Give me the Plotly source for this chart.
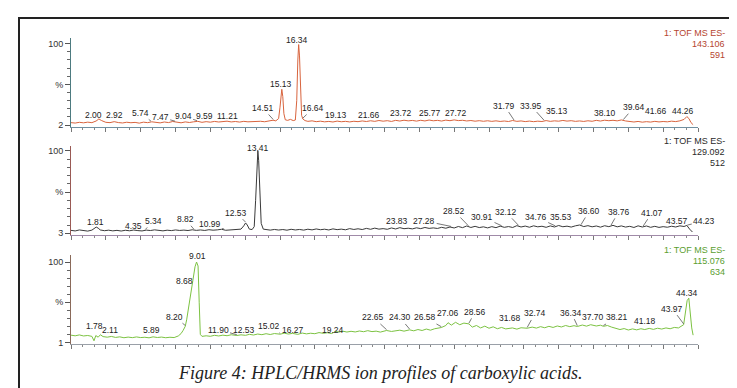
import numpy as np
import plotly.graph_objects as go

W, H = 737, 388

# ---------------- data: panel 1 (m/z 143.106) ----------------
t1 = [0.0, 0.3, 0.6, 0.9, 1.2, 1.5, 1.8, 2.0, 2.2, 2.5, 2.8, 3.1, 3.4, 3.7, 4.0, 4.3, 4.6, 4.9, 5.2, 5.5,
      5.8, 6.1, 6.4, 6.7, 7.0, 7.3, 7.6, 7.9, 8.2, 8.5, 8.8, 9.1, 9.4, 9.7, 10.0, 10.3, 10.6, 10.9, 11.2, 11.5,
      11.8, 12.1, 12.4, 12.7, 13.0, 13.3, 13.6, 13.9, 14.2, 14.5, 14.7, 14.9, 15.0, 15.08, 15.13, 15.2, 15.28,
      15.38, 15.55, 15.75, 15.95, 16.1, 16.2, 16.28, 16.34, 16.4, 16.47, 16.55, 16.64, 16.8, 17.0, 17.3, 17.6,
      17.9, 18.2, 18.5, 18.8, 19.1, 19.4, 19.7, 20.0, 20.3, 20.6, 20.9, 21.2, 21.5, 21.8, 22.1, 22.4, 22.7,
      23.0, 23.3, 23.6, 23.9, 24.2, 24.5, 24.8, 25.1, 25.4, 25.7, 26.0, 26.3, 26.6, 26.9, 27.2, 27.5, 27.8,
      28.1, 28.4, 28.7, 29.0, 29.3, 29.6, 29.9, 30.2, 30.5, 30.8, 31.1, 31.4, 31.7, 32.0, 32.3, 32.6, 32.9,
      33.2, 33.5, 33.8, 34.1, 34.4, 34.7, 35.0, 35.3, 35.6, 35.9, 36.2, 36.5, 36.8, 37.1, 37.4, 37.7, 38.0,
      38.3, 38.6, 38.9, 39.2, 39.5, 39.8, 40.1, 40.4, 40.7, 41.0, 41.3, 41.6, 41.9, 42.2, 42.5, 42.8, 43.1,
      43.4, 43.7, 44.0, 44.2, 44.35, 44.5, 44.65]
v1 = [3.0, 2.5, 3.4, 2.8, 3.6, 3.0, 5.0, 7.5, 5.5, 3.4, 3.0, 4.2, 3.1, 2.6, 3.5, 2.9, 3.3, 2.4, 3.6, 3.0,
      4.0, 3.2, 2.7, 3.8, 3.1, 4.4, 3.3, 2.8, 3.9, 3.2, 4.0, 4.6, 3.4, 4.2, 3.6, 4.5, 3.8, 4.3, 4.8, 3.9,
      4.4, 3.7, 4.6, 4.0, 4.3, 3.8, 4.7, 4.1, 4.9, 6.0, 5.2, 8.0, 22, 40, 44, 35, 14,
      6.5, 5.8, 7.0, 5.5, 6.2, 30, 80, 99, 85, 40, 12, 7.5, 5.5, 4.6, 5.2, 4.2,
      4.8, 4.0, 4.5, 3.8, 4.9, 4.1, 4.6, 3.9, 4.7, 4.2, 5.1, 4.4, 5.3, 4.6, 5.6, 4.8, 5.4,
      4.5, 5.8, 5.0, 6.0, 5.2, 5.7, 4.9, 5.9, 5.1, 6.2, 5.3, 5.8, 5.0, 6.1, 5.4, 6.4, 5.5,
      5.9, 5.1, 5.6, 4.8, 5.4, 4.7, 5.3, 4.6, 5.2, 4.5, 5.0, 4.4, 5.6, 4.6, 5.1, 4.3, 4.9,
      4.2, 4.8, 4.4, 5.5, 4.6, 5.2, 4.8, 5.7, 4.9, 5.4, 4.6, 5.1, 4.5, 5.3, 4.7, 5.8, 5.0,
      6.0, 5.4, 5.9, 5.2, 6.3, 5.1, 4.3, 3.8, 4.5, 3.6, 4.2, 3.7, 4.6, 3.9, 4.4, 4.0, 4.8,
      4.3, 5.2, 7.0, 10.5, 8.0, 3.0, 0.5]

# ---------------- data: panel 2 (m/z 129.092) ----------------
t2 = [0.0, 0.3, 0.6, 0.9, 1.2, 1.5, 1.7, 1.81, 1.95, 2.1, 2.4, 2.7, 3.0, 3.3, 3.6, 3.9, 4.2, 4.5, 4.8, 5.1,
      5.4, 5.7, 6.0, 6.3, 6.6, 6.9, 7.2, 7.5, 7.8, 8.1, 8.4, 8.7, 9.0, 9.3, 9.6, 9.9, 10.2, 10.5, 10.8, 11.1,
      11.4, 11.7, 12.0, 12.2, 12.4, 12.53, 12.65, 12.8, 13.0, 13.15, 13.25, 13.35, 13.41, 13.47, 13.55, 13.65,
      13.8, 14.0, 14.3, 14.6, 14.9, 15.2, 15.5, 15.8, 16.1, 16.4, 16.7, 17.0, 17.3, 17.6, 17.9, 18.2, 18.5,
      18.8, 19.1, 19.4, 19.7, 20.0, 20.3, 20.6, 20.9, 21.2, 21.5, 21.8, 22.1, 22.4, 22.7, 23.0, 23.3, 23.6,
      23.9, 24.2, 24.5, 24.8, 25.1, 25.4, 25.7, 26.0, 26.3, 26.6, 26.9, 27.2, 27.5, 27.8, 28.1, 28.4, 28.7,
      29.0, 29.3, 29.6, 29.9, 30.2, 30.5, 30.8, 31.1, 31.4, 31.7, 32.0, 32.3, 32.6, 32.9, 33.2, 33.5, 33.8,
      34.1, 34.4, 34.7, 35.0, 35.3, 35.6, 35.9, 36.2, 36.5, 36.8, 37.1, 37.4, 37.7, 38.0, 38.3, 38.6, 38.9,
      39.2, 39.5, 39.8, 40.1, 40.4, 40.7, 41.0, 41.3, 41.6, 41.9, 42.2, 42.5, 42.8, 43.1, 43.4, 43.7, 44.0,
      44.2, 44.4, 44.6]
v2 = [3.5, 2.8, 4.0, 3.2, 2.6, 3.8, 6.0, 7.5, 6.2, 4.0, 3.1, 3.7, 2.9, 3.5, 2.7, 3.6, 3.0, 3.9, 3.2, 2.8,
      3.8, 3.3, 4.1, 3.4, 2.9, 3.7, 3.2, 4.0, 3.4, 3.8, 3.3, 4.2, 3.5, 4.0, 3.4, 4.3, 3.7, 4.1, 4.8, 3.6,
      4.0, 3.5, 4.4, 5.0, 9.0, 12.5, 10.0, 5.0, 4.5, 8.0, 40, 90, 100, 88, 45, 12,
      5.0, 4.4, 3.8, 4.6, 3.9, 4.5, 3.7, 4.8, 4.0, 4.6, 3.8, 4.9, 4.1, 5.2, 4.3, 4.9, 4.0,
      5.3, 4.4, 5.0, 4.2, 5.6, 4.6, 5.4, 4.5, 5.9, 4.8, 6.2, 5.0, 5.6, 4.8, 6.4, 5.2, 6.8,
      5.5, 6.1, 5.3, 6.6, 5.6, 7.0, 5.9, 6.5, 5.8, 7.2, 6.1, 7.6, 6.4, 8.2, 6.8, 8.8, 7.0,
      8.4, 6.9, 7.8, 6.5, 8.0, 6.8, 8.6, 7.2, 8.1, 7.0, 9.2, 7.6, 8.7, 7.3, 9.0, 7.8, 8.5,
      7.2, 8.9, 7.6, 9.4, 7.9, 8.6, 7.5, 9.0, 10.0, 8.1, 9.2, 7.8, 8.8, 7.4, 9.1, 8.0, 9.6,
      7.8, 8.9, 7.5, 8.4, 7.0, 9.0, 7.6, 8.8, 7.2, 8.4, 7.1, 8.0, 7.3, 8.5, 7.6, 9.0, 8.2,
      9.5, 5.0, 1.5]

# ---------------- data: panel 3 (m/z 115.076) ----------------
t3 = [0.0, 0.3, 0.6, 0.9, 1.2, 1.5, 1.65, 1.78, 1.95, 2.11, 2.3, 2.6, 2.9, 3.2, 3.5, 3.8, 4.1, 4.4, 4.7, 5.0,
      5.3, 5.6, 5.89, 6.2, 6.5, 6.8, 7.1, 7.4, 7.7, 7.9, 8.05, 8.2, 8.3, 8.45, 8.55, 8.68, 8.78, 8.9, 9.01,
      9.12, 9.2, 9.28, 9.4, 9.7, 10.0, 10.3, 10.6, 10.9, 11.2, 11.5, 11.9, 12.2, 12.53, 12.8, 13.1, 13.4,
      13.7, 14.0, 14.3, 14.6, 15.02, 15.3, 15.6, 15.9, 16.27, 16.6, 16.9, 17.2, 17.5, 17.8, 18.1, 18.4, 18.7,
      19.0, 19.24, 19.5, 19.8, 20.1, 20.4, 20.7, 21.0, 21.3, 21.6, 21.9, 22.2, 22.65, 23.0, 23.3, 23.6, 23.9,
      24.3, 24.6, 24.9, 25.2, 25.5, 25.8, 26.1, 26.58, 26.9, 27.06, 27.3, 27.6, 27.9, 28.2, 28.56, 28.8, 29.1,
      29.4, 29.7, 30.0, 30.3, 30.6, 30.9, 31.2, 31.68, 32.0, 32.3, 32.74, 33.1, 33.4, 33.7, 34.0, 34.3, 34.6,
      34.9, 35.2, 35.5, 35.8, 36.1, 36.34, 36.7, 37.0, 37.3, 37.7, 38.0, 38.21, 38.5, 38.8, 39.1, 39.4, 39.7,
      40.0, 40.3, 40.6, 40.9, 41.18, 41.5, 41.8, 42.1, 42.4, 42.7, 43.0, 43.3, 43.6, 43.97, 44.1, 44.22,
      44.34, 44.45, 44.55, 44.65]
v3 = [9.0, 8.2, 9.3, 8.0, 8.6, 7.5, 2.0, 8.5, 6.5, 9.5, 7.2, 6.5, 7.4, 6.2, 6.9, 5.8, 6.6, 5.9, 6.8, 6.0,
      6.4, 5.7, 6.9, 6.1, 6.6, 5.8, 6.4, 6.0, 8.0, 11.0, 15.0, 20.0, 28, 45, 60, 72, 80, 94, 100,
      95, 50, 10, 7.5, 8.2, 7.6, 8.8, 8.0, 9.0, 8.3, 9.5, 8.6, 9.4, 8.8, 10.0, 9.2, 10.4,
      9.6, 10.8, 9.8, 11.0, 10.2, 11.5, 10.4, 11.2, 10.0, 11.6, 10.6, 11.4, 10.8, 12.2, 11.3, 12.0, 11.0,
      13.6, 12.8, 14.0, 12.9, 13.8, 13.0, 14.2, 13.3, 14.6, 13.4, 14.0, 12.8, 14.8, 13.6, 14.2, 15.2, 14.0,
      15.6, 14.4, 16.0, 14.8, 16.6, 15.2, 17.0, 18.5, 21.0, 24.5, 21.5, 25.0, 22.0, 24.0, 23.0, 19.0, 21.0,
      18.0, 20.2, 17.6, 19.4, 17.0, 18.6, 16.8, 18.0, 16.5, 18.2, 17.6, 19.0, 17.8, 19.6, 18.2, 20.0, 18.6,
      20.4, 19.2, 21.0, 19.6, 20.8, 19.8, 21.6, 20.2, 22.0, 20.4, 21.4, 20.0, 21.0, 19.0, 17.6, 16.0, 17.2,
      15.4, 16.8, 15.6, 17.0, 16.0, 17.4, 16.2, 17.6, 16.6, 18.0, 17.0, 18.6, 18.0, 22.0, 35, 52,
      55, 35, 18, 9]

# ---------------- peak labels ----------------
lab1_text = ["2.00", "2.92", "5.74", "7.47", "9.04", "9.59", "11.21", "14.51", "15.13", "16.34", "16.64",
             "19.13", "21.66", "23.72", "25.77", "27.72", "31.79", "33.95", "35.13", "38.10", "39.64",
             "41.66", "44.26"]
lab1_x = [1.6, 3.1, 5.0, 6.4, 8.05, 9.6, 11.25, 13.75, 15.05, 16.2, 17.4, 19.0, 21.4, 23.7, 25.8, 27.6,
          31.1, 33.0, 34.9, 38.3, 40.4, 42.0, 43.95]
lab1_y = [12, 12, 15, 10, 11, 11, 11, 21, 51, 104, 21, 12, 12, 15, 15, 15, 24, 24, 17, 15, 22, 17, 17]

lab2_text = ["1.81", "4.35", "5.34", "8.82", "10.99", "12.53", "13.41", "23.83", "27.28", "28.52", "30.91",
             "32.12", "34.76", "35.53", "36.60", "38.76", "41.07", "43.57", "44.23"]
lab2_x = [1.75, 4.45, 5.9, 8.2, 9.95, 11.85, 13.4, 23.4, 25.35, 27.5, 29.5, 31.2, 33.35, 35.15, 37.2, 39.3,
          41.7, 43.5, 45.45]
lab2_y = [14, 9, 15, 17, 11, 25, 104, 15, 15, 27, 20, 26, 20, 20, 27, 26, 25, 15, 15]

lab3_text = ["1.78", "2.11", "5.89", "8.20", "8.68", "9.01", "11.90", "12.53", "15.02", "16.27", "19.24",
             "22.65", "24.30", "26.58", "27.06", "28.56", "31.68", "32.74", "36.34", "37.70", "38.21",
             "41.18", "43.97", "44.34"]
lab3_x = [1.72, 2.8, 5.8, 7.45, 8.15, 9.1, 10.55, 12.4, 14.2, 15.9, 18.8, 21.7, 23.6, 25.4, 27.05, 29.0,
          31.5, 33.3, 35.9, 37.45, 39.2, 41.2, 43.15, 44.2]
lab3_y = [20, 16, 15, 32, 77, 107, 16, 16, 20, 16, 16, 31, 31, 31, 36, 38, 30, 36, 37, 31, 31, 27, 42, 62]

side_text = [["1: TOF MS ES-", "143.106", "591"],
             ["1: TOF MS ES-", "129.092", "512"],
             ["1: TOF MS ES-", "115.076", "634"]]
base_labels = ["2", "3", "1"]
caption = "Figure 4: HPLC/HRMS ion profiles of carboxylic acids."

# ---------------- layout helpers ----------------
def px_x(p):
    return p / W

def px_y(p):
    return 1 - p / H

panels = [
    dict(t=t1, v=v1, lt=lab1_text, lx=lab1_x, ly=lab1_y, zero=118, scale=0.82,
         color="#d8643e", axc="#6f8fa0", ycol="#4d7b80", sidecol="#b5452f"),
    dict(t=t2, v=v2, lt=lab2_text, lx=lab2_x, ly=lab2_y, zero=227, scale=0.83,
         color="#3a3a3a", axc="#a08aa8", ycol="#9a5a55", sidecol="#2a2a2a"),
    dict(t=t3, v=v3, lt=lab3_text, lx=lab3_x, ly=lab3_y, zero=337, scale=0.81,
         color="#7cc242", axc="#9aa0a8", ycol="#8a6a5a", sidecol="#5a9e2f"),
]

LABEL_FONT = dict(family="Liberation Sans, Arial", size=8.5, color="#222")

fig = go.Figure()
annotations = []
X0, X1 = 63, 690
for i, p in enumerate(panels):
    n = "" if i == 0 else str(i + 1)
    xa, ya = "x" + n, "y" + n
    fig.add_trace(go.Scatter(x=p["t"], y=p["v"], mode="lines", xaxis=xa, yaxis=ya,
                             line=dict(color=p["color"], width=1), hoverinfo="skip", showlegend=False))
    z, s = p["zero"], p["scale"]
    dom = [px_y(z + 2), px_y(z - 88)]
    rng = [-2 / s, 88 / s]
    fig.layout["xaxis" + n] = dict(domain=[px_x(X0), px_x(X1)], range=[0, 45], anchor=ya,
                                   showticklabels=False, showgrid=False, zeroline=False,
                                   showline=True, linecolor=p["axc"], linewidth=1,
                                   ticks="outside", ticklen=4, tickcolor="#777", tickwidth=1,
                                   tick0=0, dtick=2.5,
                                   minor=dict(ticks="outside", ticklen=2, dtick=2.5 / 3, tick0=0,
                                              tickcolor="#888", tickwidth=1),
                                   fixedrange=True)
    fig.layout["yaxis" + n] = dict(domain=dom, range=rng, anchor=xa,
                                   showgrid=False, zeroline=False, showline=True,
                                   linecolor=p["ycol"], linewidth=1,
                                   ticks="outside", ticklen=5, tickcolor="#555", tickwidth=1,
                                   tickvals=[0, 50, 100], ticktext=[base_labels[i], "%", "100"],
                                   tickfont=dict(family="Liberation Sans, Arial", size=9, color="#333"),
                                   minor=dict(ticks="outside", ticklen=3, dtick=10, tick0=0,
                                              tickcolor="#666", tickwidth=1),
                                   fixedrange=True)
    # peak labels
    tt = np.array(p["t"], dtype=float)
    vv = np.array(p["v"], dtype=float)
    for txt, lx, ly in zip(p["lt"], p["lx"], p["ly"]):
        rt = float(txt)
        offset_px = abs(lx - rt) * (X1 - X0) / 45
        if offset_px > 6:
            tip_y = float(np.interp(rt, tt, vv)) + 1
            annotations.append(dict(x=rt, y=tip_y, xref=xa, yref=ya, ax=lx, ay=ly,
                                    axref=xa, ayref=ya, text=txt, showarrow=True,
                                    arrowhead=0, arrowwidth=0.8, arrowcolor="#555", standoff=0,
                                    font=LABEL_FONT))
        else:
            annotations.append(dict(x=lx, y=ly, xref=xa, yref=ya, text=txt, showarrow=False,
                                    xanchor="center", yanchor="middle", font=LABEL_FONT))
    # side labels
    for j, st in enumerate(side_text[i]):
        annotations.append(dict(x=px_x(719), y=px_y(z - 93 + j * 11), xref="paper", yref="paper",
                                text=st, showarrow=False, xanchor="right", yanchor="middle",
                                font=dict(family="Liberation Sans, Arial", size=9, color=p["sidecol"])))

annotations.append(dict(x=px_x(372), y=px_y(368), xref="paper", yref="paper", text=caption,
                        showarrow=False, xanchor="center", yanchor="middle",
                        font=dict(family="Liberation Serif, Times New Roman", size=18, color="#222",
                                  style="italic")))

fig.update_layout(
    width=W, height=H, margin=dict(l=0, r=0, t=0, b=0),
    paper_bgcolor="white", plot_bgcolor="white",
    annotations=annotations,
    shapes=[
        dict(type="line", xref="paper", yref="paper", x0=px_x(11), y0=0, x1=px_x(11), y1=px_y(10),
             line=dict(color="#222", width=2)),
        dict(type="line", xref="paper", yref="paper", x0=px_x(10), y0=px_y(10), x1=1, y1=px_y(10),
             line=dict(color="#222", width=2)),
    ],
)

fig.write_html("out.html", config={"displayModeBar": False})
